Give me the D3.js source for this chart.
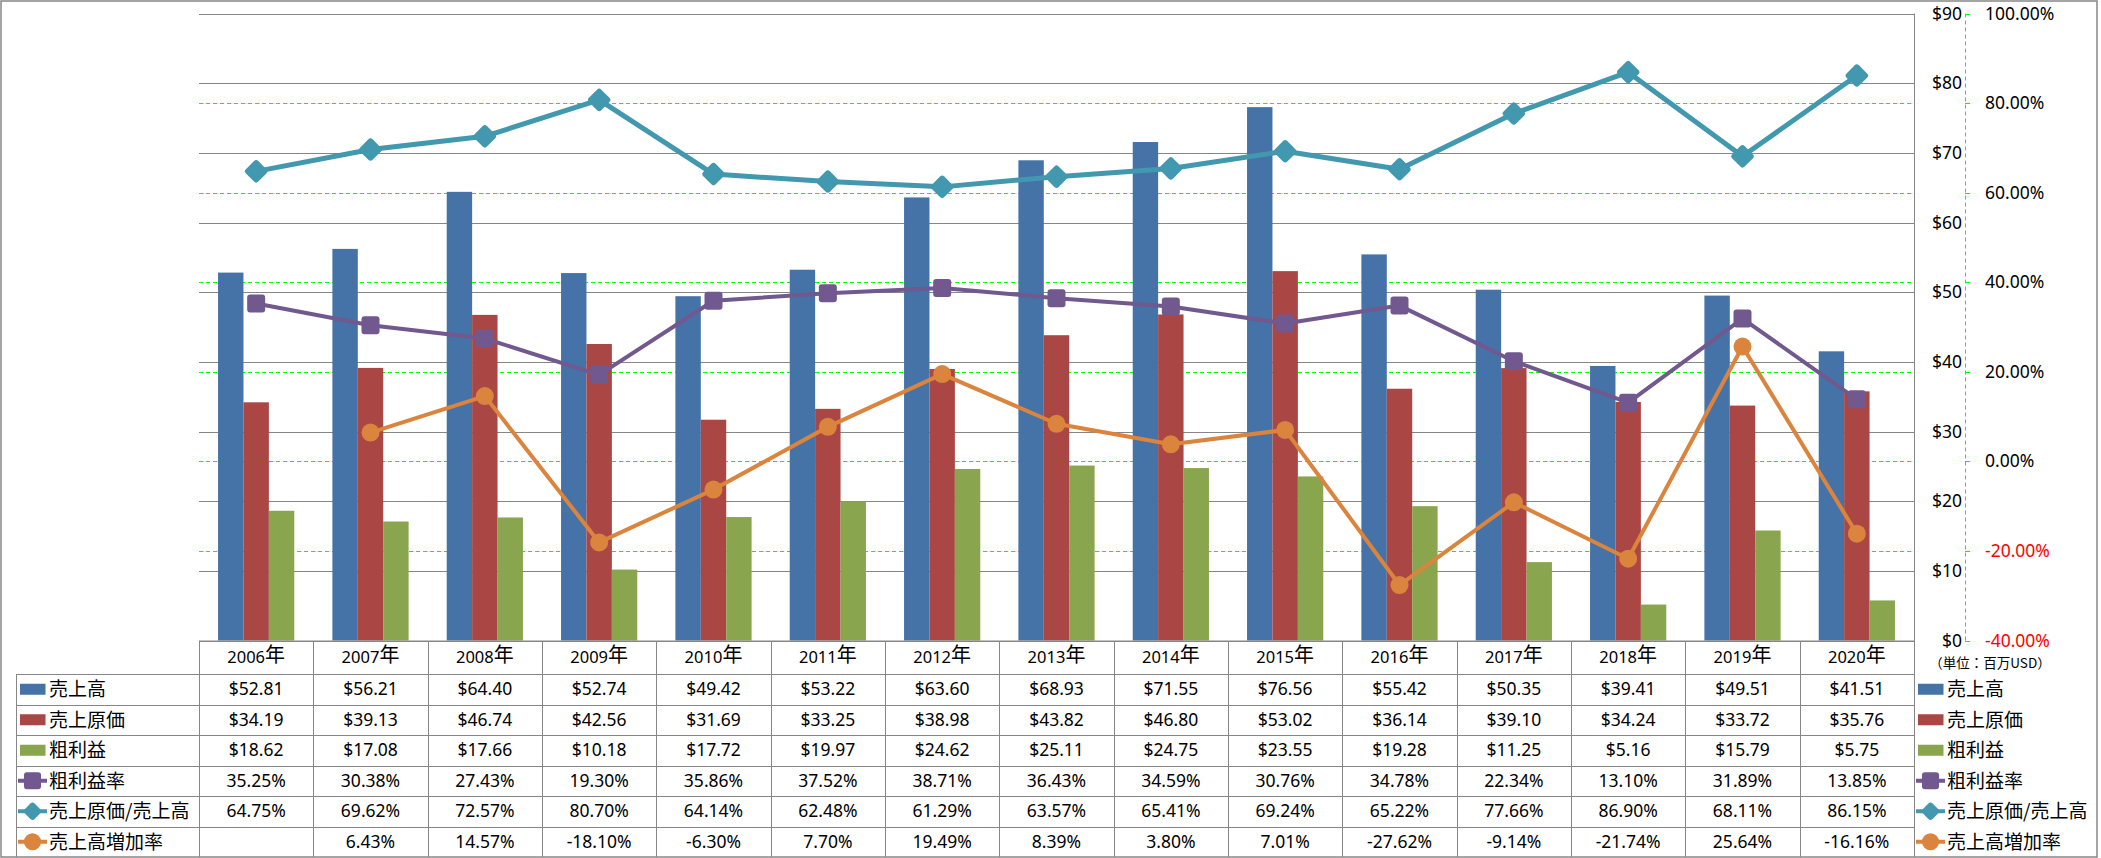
<!DOCTYPE html>
<html><head><meta charset="utf-8">
<script src="https://cdn.jsdelivr.net/npm/d3@7"></script>
<style>
html,body{margin:0;padding:0;background:#fff;}
svg{display:block;font-family:"Noto Sans","Noto Sans CJK JP",sans-serif;}
</style></head>
<body>
<svg id="chart" width="2101" height="858"></svg>
<script>
const years = ["2006","2007","2008","2009","2010","2011","2012","2013","2014","2015","2016","2017","2018","2019","2020"];
const sales = [52.81,56.21,64.40,52.74,49.42,53.22,63.60,68.93,71.55,76.56,55.42,50.35,39.41,49.51,41.51];
const cogs = [34.19,39.13,46.74,42.56,31.69,33.25,38.98,43.82,46.80,53.02,36.14,39.10,34.24,33.72,35.76];
const grossProfit = [18.62,17.08,17.66,10.18,17.72,19.97,24.62,25.11,24.75,23.55,19.28,11.25,5.16,15.79,5.75];
const grossMargin = [35.25,30.38,27.43,19.30,35.86,37.52,38.71,36.43,34.59,30.76,34.78,22.34,13.10,31.89,13.85];
const cogsRatio = [64.75,69.62,72.57,80.70,64.14,62.48,61.29,63.57,65.41,69.24,65.22,77.66,86.90,68.11,86.15];
const salesGrowth = [null,6.43,14.57,-18.10,-6.30,7.70,19.49,8.39,3.80,7.01,-27.62,-9.14,-21.74,25.64,-16.16];
const dollarTicks = [0,10,20,30,40,50,60,70,80,90];
const pctTicks = [-40,-20,0,20,40,60,80,100];
const seriesNames = ["売上高","売上原価","粗利益","粗利益率","売上原価/売上高","売上高増加率"];
const unitLabel = "（単位：百万USD）";

const colors = ["#4572A7","#AA4643","#89A54E","#71588F","#4198AF","#DB843D"];
const svg = d3.select("#chart");

const X0 = 199, X1 = 1914, YT = 13.5, YB = 640.5;
const x = d3.scaleBand().domain(years).range([X0, X1]).padding(0);
const yL = d3.scaleLinear().domain([0, 90]).range([YB, YT]);
const yR = d3.scaleLinear().domain([-40, 100]).range([YB, YT]);
const bw = x.bandwidth();
const barW = bw / 4.5;
const FS = 17.5;

// frame
svg.append("rect").attr("x",1).attr("y",1).attr("width",2096).attr("height",856)
  .attr("fill","none").attr("stroke","#878787").attr("stroke-width",1.5);

// gray gridlines
svg.append("g").selectAll("line").data(dollarTicks).join("line")
  .attr("x1",X0).attr("x2",X1).attr("y1",d=>Math.round(yL(d))+0.5).attr("y2",d=>Math.round(yL(d))+0.5)
  .attr("stroke","#868686").attr("stroke-width",1);
// green dashed gridlines
svg.append("g").selectAll("line").data(pctTicks.filter(d=>d>-40 && d<100)).join("line")
  .attr("x1",X0).attr("x2",X1).attr("y1",d=>Math.round(yR(d))+0.5).attr("y2",d=>Math.round(yR(d))+0.5)
  .attr("stroke","#00FF00").attr("stroke-width",1).attr("stroke-dasharray","4,3");
// plot right border
svg.append("line").attr("x1",X1+0.5).attr("x2",X1+0.5).attr("y1",YT).attr("y2",857)
  .attr("stroke","#868686");

// bars
const barSeries = [sales, cogs, grossProfit];
barSeries.forEach((arr, si) => {
  svg.append("g").selectAll("rect").data(arr).join("rect")
    .attr("x",(d,i)=> x(years[i]) + bw/2 - 1.5*barW + si*barW)
    .attr("width", barW)
    .attr("y", d => yL(d))
    .attr("height", d => YB - yL(d))
    .attr("fill", colors[si]);
});

// marker drawing
function marker(g, type, color, cx, cy, scale) {
  scale = scale || 1;
  if (type === "square") {
    const s = 18*scale;
    g.append("rect").attr("x",cx-s/2).attr("y",cy-s/2).attr("width",s).attr("height",s)
      .attr("rx",3).attr("fill",color);
  } else if (type === "diamond") {
    const s = 17.5*scale;
    g.append("rect").attr("x",cx-s/2).attr("y",cy-s/2).attr("width",s).attr("height",s)
      .attr("rx",3).attr("fill",color).attr("transform",`rotate(45 ${cx} ${cy})`);
  } else {
    g.append("circle").attr("cx",cx).attr("cy",cy).attr("r",9*scale).attr("fill",color);
  }
}

const lineSeries = [
  {data: grossMargin, color: colors[3], type: "square", w: 4},
  {data: cogsRatio, color: colors[4], type: "diamond", w: 5},
  {data: salesGrowth, color: colors[5], type: "circle", w: 4}
];
lineSeries.forEach(s => {
  const g = svg.append("g");
  const line = d3.line().defined(d=>d!==null)
    .x((d,i)=> x(years[i]) + bw/2).y(d=>yR(d));
  g.append("path").datum(s.data).attr("d", line).attr("fill","none")
    .attr("stroke", s.color).attr("stroke-width", s.w).attr("stroke-linejoin","round");
  s.data.forEach((d,i)=>{ if (d!==null) marker(g, s.type, s.color, x(years[i])+bw/2, yR(d)); });
});

// right dollar axis labels
svg.append("g").selectAll("text").data(dollarTicks).join("text")
  .attr("x",1962).attr("y",d=>yL(d)).attr("dy","0.35em").attr("text-anchor","end")
  .attr("font-size",FS).attr("fill","#000").text(d=>"$"+d);
// percent axis line
svg.append("line").attr("x1",1965.5).attr("x2",1965.5).attr("y1",YT).attr("y2",YB)
  .attr("stroke","#00FF00").attr("stroke-dasharray","4,3");
svg.append("g").selectAll("line").data(pctTicks).join("line")
  .attr("x1",1965).attr("x2",1970).attr("y1",d=>Math.round(yR(d))+0.5).attr("y2",d=>Math.round(yR(d))+0.5)
  .attr("stroke","#00FF00");
svg.append("g").selectAll("text").data(pctTicks).join("text")
  .attr("x",1985).attr("y",d=>yR(d)).attr("dy","0.35em")
  .attr("font-size",FS).attr("fill",d=>d<0?"#FF0000":"#000").text(d=>d.toFixed(2)+"%");
svg.append("text").attr("x",1990).attr("y",663).attr("dy","0.35em").attr("text-anchor","middle")
  .attr("font-size",13.5).attr("font-family","Noto Sans CJK JP").text(unitLabel);

// data table
const rowTop = [674,704.5,735,765.5,796,826.5,857];
const gridColor = "#868686";
const tg = svg.append("g");
tg.append("line").attr("x1",X0).attr("x2",X1).attr("y1",641).attr("y2",641).attr("stroke",gridColor);
const vx = years.map(y=>x(y)).concat([X1]);
tg.selectAll("line.v").data(vx).join("line").attr("class","v")
  .attr("x1",d=>Math.round(d)+0.5).attr("x2",d=>Math.round(d)+0.5).attr("y1",641).attr("y2",857)
  .attr("stroke",gridColor);
tg.append("line").attr("x1",16.5).attr("x2",16.5).attr("y1",674).attr("y2",857).attr("stroke",gridColor);
tg.selectAll("line.h").data(rowTop.slice(0,6)).join("line").attr("class","h")
  .attr("x1",16).attr("x2",X1).attr("y1",d=>Math.round(d)+0.5).attr("y2",d=>Math.round(d)+0.5)
  .attr("stroke",gridColor);
// header labels
years.forEach(yr=>{
  const t = tg.append("text").attr("x",x(yr)+bw/2).attr("y",657).attr("dy","0.35em")
    .attr("text-anchor","middle").attr("font-size",16.5);
  t.append("tspan").text(yr);
  t.append("tspan").attr("font-size",20).attr("font-family","Noto Sans CJK JP").attr("dy","-0.05em").text("年");
});
const rows = [
  sales.map(v=>"$"+v.toFixed(2)),
  cogs.map(v=>"$"+v.toFixed(2)),
  grossProfit.map(v=>"$"+v.toFixed(2)),
  grossMargin.map(v=>v.toFixed(2)+"%"),
  cogsRatio.map(v=>v.toFixed(2)+"%"),
  salesGrowth.map(v=>v===null?"":v.toFixed(2)+"%")
];
const types = ["bar","bar","bar","square","diamond","circle"];
rows.forEach((r,ri)=>{
  const cy = (rowTop[ri]+rowTop[ri+1])/2;
  r.forEach((txt,ci)=>{
    tg.append("text").attr("x",x(years[ci])+bw/2).attr("y",cy).attr("dy","0.35em")
      .attr("text-anchor","middle").attr("font-size",FS).text(txt);
  });
  [[20,49],[1918,1947]].forEach(([kx,tx])=>{
    if (types[ri]==="bar") {
      tg.append("rect").attr("x",kx).attr("y",cy-5.5).attr("width",25.5).attr("height",11).attr("fill",colors[ri]);
    } else {
      tg.append("line").attr("x1",kx-2).attr("x2",kx+27).attr("y1",cy).attr("y2",cy)
        .attr("stroke",colors[ri]).attr("stroke-width",4);
      marker(tg, types[ri], colors[ri], kx+12.5, cy, types[ri]==="diamond"?0.8:0.95);
    }
    tg.append("text").attr("x",tx).attr("y",cy).attr("dy","0.36em")
      .attr("font-size",19).attr("font-family","Noto Sans CJK JP").text(seriesNames[ri]);
  });
});
</script>
</body></html>
